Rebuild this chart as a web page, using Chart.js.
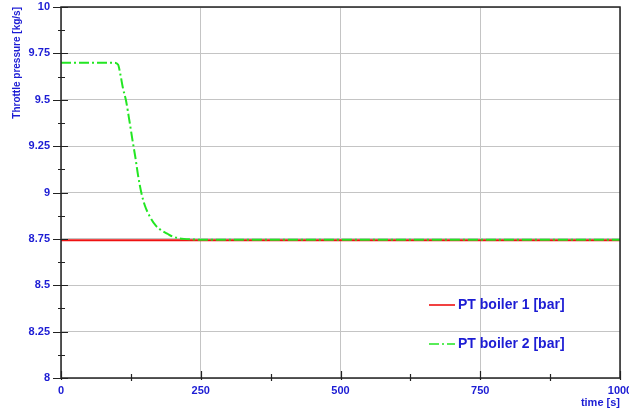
<!DOCTYPE html>
<html>
<head>
<meta charset="utf-8">
<script src="https://cdn.jsdelivr.net/npm/chart.js@4"></script>
<style>
  html, body { margin: 0; padding: 0; background: #fff; }
  #wrap { width: 629px; height: 412px; }
</style>
</head>
<body>
<div id="wrap"><canvas id="c" width="629" height="412"></canvas></div>
<script>
// time axis [s] and pressures [bar]
const boiler1Time = [0, 1000];
const boiler1Pressure = [8.743, 8.743];

const boiler2Time = [0, 95, 102, 106, 111, 116, 123, 128, 133, 138, 144, 150, 159, 170, 180, 190, 200, 210, 220, 235, 250, 1000];
const boiler2Pressure = [9.7, 9.7, 9.69, 9.64, 9.56, 9.5, 9.375, 9.28, 9.19, 9.09, 8.995, 8.93, 8.87, 8.82, 8.795, 8.778, 8.762, 8.754, 8.75, 8.747, 8.745, 8.745];

const seriesNames = ["PT boiler 1 [bar]", "PT boiler 2 [bar]"];
const xTicks = [0, 250, 500, 750, 1000];

const BLUE = "#1c1cd4";
const AXIS = "#222";
const GREEN = "#22e622";
const RED = "#ee1111";
const FONT = "'Liberation Sans', Arial, sans-serif";

const toPoints = (xs, ys) => xs.map((x, i) => ({ x: x, y: ys[i] }));

// frame, tick marks and the in-plot legend
const decorations = {
  id: "decorations",
  afterDatasetsDraw(chart) {
    const ctx = chart.ctx;
    const a = chart.chartArea;
    const xs = chart.scales.x;
    const ys = chart.scales.y;
    ctx.save();
    ctx.strokeStyle = AXIS;
    ctx.lineWidth = 1.5;
    ctx.strokeRect(a.left, a.top, a.right - a.left, a.bottom - a.top);

    ctx.lineWidth = 1.2;
    ctx.beginPath();
    for (let v = 8; v <= 10.001; v += 0.125) {
      const y = Math.round(ys.getPixelForValue(v)) + 0.5;
      const major = Math.abs(v * 4 - Math.round(v * 4)) < 1e-6;
      ctx.moveTo(a.left - (major ? 8 : 3), y);
      ctx.lineTo(a.left + (major ? 7 : 4), y);
    }
    for (let t = 0; t <= 1000; t += 125) {
      const x = Math.round(xs.getPixelForValue(t)) + 0.5;
      const major = t % 250 === 0;
      ctx.moveTo(x, a.bottom - (major ? 7 : 4));
      ctx.lineTo(x, a.bottom + (major ? 2 : 3));
    }
    ctx.stroke();

    // legend
    const entries = [
      { label: seriesNames[0], color: RED, dash: [], y: 305 },
      { label: seriesNames[1], color: GREEN, dash: [10, 3, 2, 3], y: 344 }
    ];
    ctx.font = "bold 14px " + FONT;
    ctx.textBaseline = "middle";
    ctx.textAlign = "left";
    entries.forEach((e) => {
      ctx.strokeStyle = e.color;
      ctx.lineWidth = 1.6;
      ctx.setLineDash(e.dash);
      ctx.beginPath();
      ctx.moveTo(429, e.y);
      ctx.lineTo(455, e.y);
      ctx.stroke();
      ctx.setLineDash([]);
      ctx.fillStyle = BLUE;
      ctx.fillText(e.label, 458, e.y);
    });
    ctx.restore();
  }
};

new Chart(document.getElementById("c"), {
  type: "line",
  data: {
    datasets: [
      {
        label: seriesNames[1],
        data: toPoints(boiler2Time, boiler2Pressure),
        borderColor: GREEN,
        borderWidth: 2,
        borderDash: [10, 3, 2, 3],
        pointRadius: 0,
        cubicInterpolationMode: "monotone",
        fill: false
      },
      {
        label: seriesNames[0],
        data: toPoints(boiler1Time, boiler1Pressure),
        borderColor: RED,
        borderWidth: 2,
        pointRadius: 0,
        fill: false
      }
    ]
  },
  options: {
    responsive: false,
    animation: false,
    layout: { padding: { top: 7, right: 9, left: 0, bottom: 0 } },
    plugins: {
      legend: { display: false },
      tooltip: { enabled: false }
    },
    scales: {
      x: {
        type: "linear",
        min: 0,
        max: 1000,
        afterFit: (s) => {
          s.height = 34;
          s.paddingLeft = 0; s.paddingRight = 0;
        },
        afterBuildTicks: (s) => { s.ticks = xTicks.map((v) => ({ value: v })); },
        grid: { color: "#c4c4c4", lineWidth: 1, drawTicks: false },
        border: { display: false },
        ticks: {
          padding: 6,
          color: BLUE,
          font: { family: FONT, size: 11, weight: "bold" },
          maxRotation: 0,
          callback: (v) => String(v)
        },
        title: {
          display: true,
          text: "time [s]",
          align: "end",
          color: BLUE,
          font: { family: FONT, size: 11, weight: "bold" },
          padding: { top: 0, bottom: 2 }
        }
      },
      y: {
        min: 8,
        max: 10,
        afterFit: (s) => {
          s.width = 61;
          s.paddingTop = 0; s.paddingBottom = 0;
        },
        grid: { color: "#c4c4c4", lineWidth: 1, drawTicks: false },
        border: { display: false },
        ticks: {
          stepSize: 0.25,
          padding: 11,
          color: BLUE,
          font: { family: FONT, size: 11, weight: "bold" },
          callback: (v) => String(+v.toFixed(2))
        },
        title: {
          display: true,
          text: "Throttle pressure [kg/s]",
          align: "end",
          color: BLUE,
          font: { family: FONT, size: 10, weight: "bold" },
          padding: { top: 11, bottom: 0 }
        }
      }
    }
  },
  plugins: [decorations]
});
</script>
</body>
</html>
